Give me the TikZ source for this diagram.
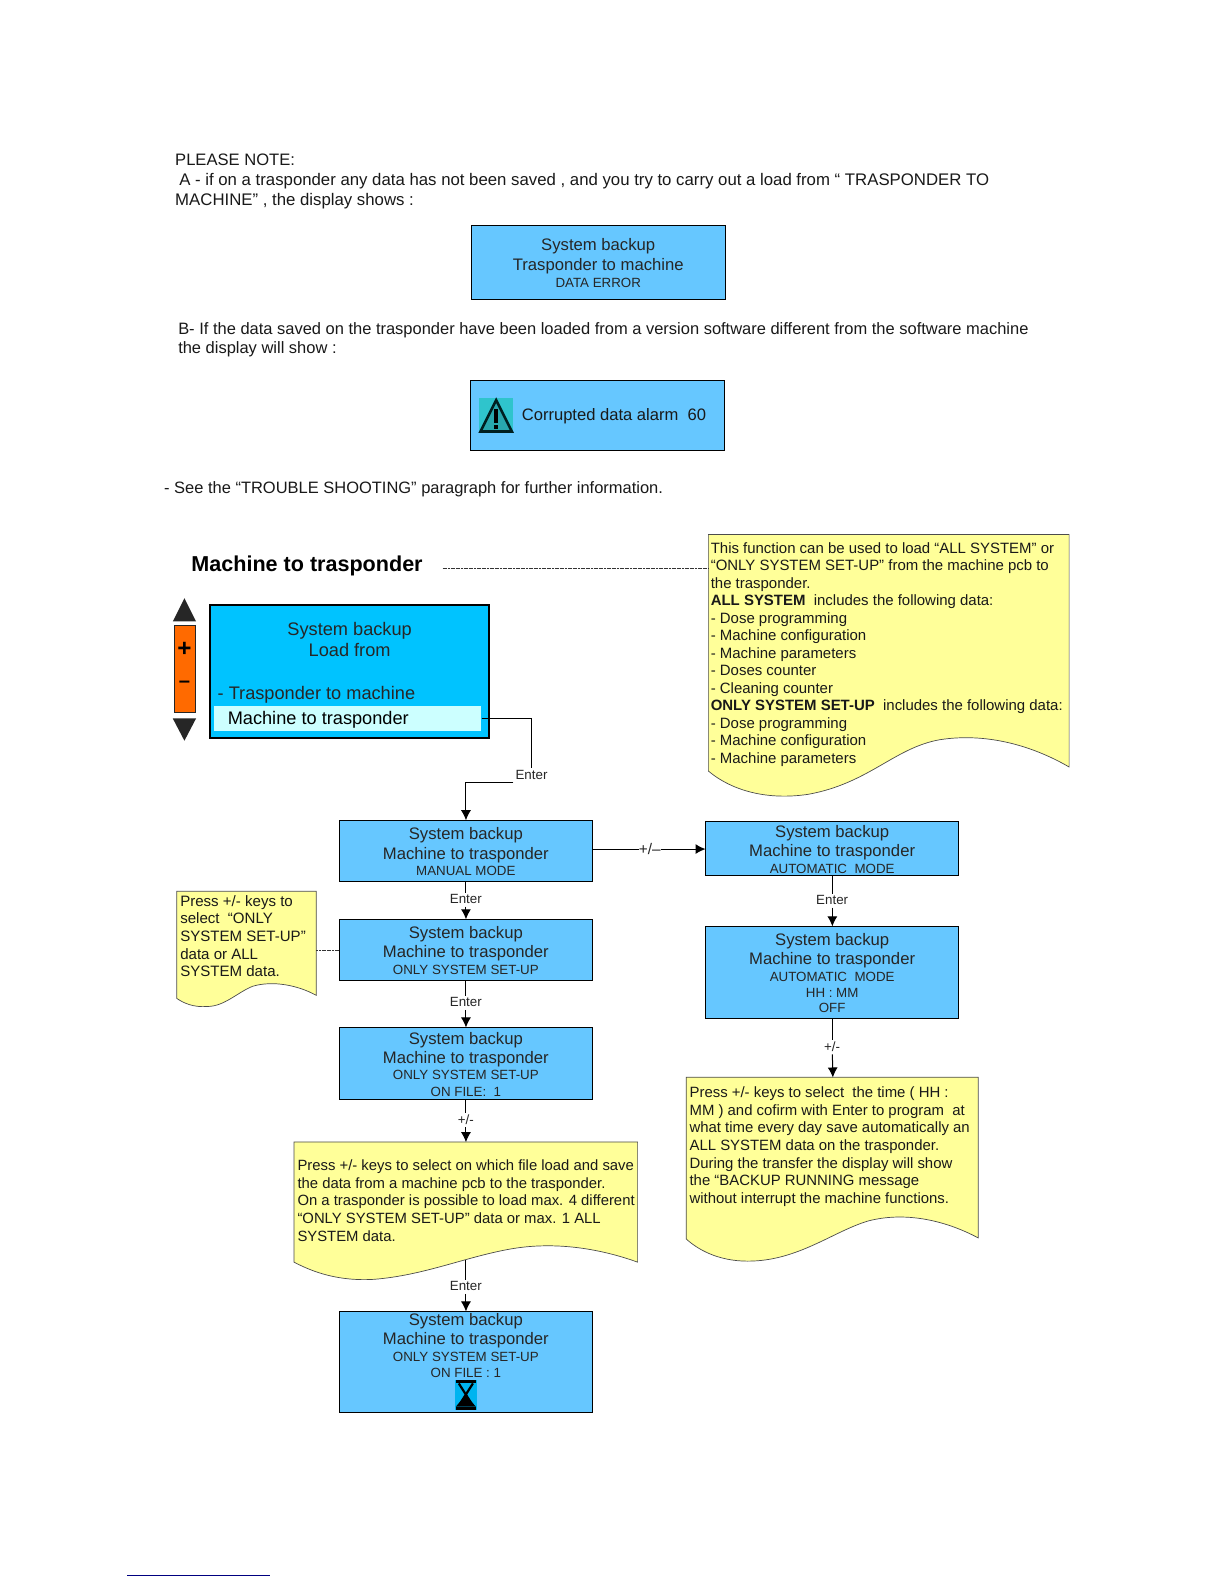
\documentclass[tikz,border=0pt]{standalone}
\usepackage{fontspec}
\setmainfont{Liberation Sans}
\usetikzlibrary{arrows.meta}
\definecolor{lcd}{HTML}{66C7FF}
\definecolor{lcddark}{HTML}{00C3FF}
\definecolor{note}{HTML}{FFFF99}
\definecolor{orng}{HTML}{FF6A00}
\definecolor{hilite}{HTML}{CCFFFF}
\definecolor{iconteal}{HTML}{2FC4CC}
\definecolor{hourbg}{HTML}{00B4F0}
\tikzset{
 x=0.5pt,y=-0.5pt,
 lcdbox/.style={draw=black,line width=0.5pt,fill=lcd,inner sep=0pt},
 lcdtext/.style={align=center,inner sep=0pt,text=black!85,font=\fontsize{8.25}{9.5}\selectfont},
 notefill/.style={draw=black!70,line width=0.35pt,fill=note},
 body/.style={anchor=base west,inner sep=0pt,font=\fontsize{8.3}{10}\selectfont,text=black!90},
 bodyb/.style={anchor=base west,inner sep=0pt,font=\fontsize{8.15}{10}\selectfont,text=black!90},
 notetext/.style={anchor=north west,inner sep=0pt,align=left,font=\fontsize{7.4}{8.75}\selectfont,text=black!90},
 tag/.style={inner sep=1pt,font=\fontsize{6.6}{8}\selectfont,text=black!85},
 link/.style={draw=black,line width=0.5pt},
 thinlink/.style={draw=black!80,line width=0.3pt,dash pattern=on 1pt off 0.3pt},
 arr/.style={link,-{Latex[length=5pt,width=5pt]}},
}
\newcommand{\lnsml}[1]{{\fontsize{6.6}{8.3}\selectfont #1}}
\begin{document}
\begin{tikzpicture}[scale=1.0105,transform shape]
\useasboundingbox (0,0) rectangle (1211.3,1567.5);
\fill[white] (0,0) rectangle (1211.3,1567.5);
% top text
\node[body,font=\fontsize{8.2}{10}\selectfont] (t1) at (173,164) {PLEASE NOTE:};
\node[body] (t2) at (177,184) {A - if on a trasponder any data has not been saved , and you try to carry out a load from “ TRASPONDER TO};
\node[body] (t3) at (173,203) {MACHINE” , the display shows :};
\node[lcdbox,minimum width=125.5pt,minimum height=36.5pt] (e1) at (592.3,260) {};
\node[lcdtext] (e1t) at (592,260.5) {System backup\\[0.4pt]Trasponder to machine\\[-1.2pt]\lnsml{DATA ERROR}};
\node[bodyb] (t4) at (176,331) {B- If the data saved on the trasponder have been loaded from a version software different from the software machine};
\node[bodyb] (t5) at (176,350) {the display will show :};
\node[lcdbox,minimum width=125.5pt,minimum height=34.5pt] (e2) at (591.3,411.5) {};
% warning icon
\fill[iconteal] (474,394) rectangle (508,428);
\draw[black!75!teal,line width=1.3pt,line join=miter,fill=iconteal!85!black] (491,396) -- (506.5,427) -- (475.5,427) -- cycle;
\fill[black] (489,405) rectangle (493,419);
\fill[black] (489,421) rectangle (493,425);
\node[body,font=\fontsize{8.2}{10}\selectfont] (e2t) at (516,416) {Corrupted data alarm\ \ 60};
\node[bodyb] (t6) at (162,488) {- See the “TROUBLE SHOOTING” paragraph for further information.};
% title
\node[anchor=base west,inner sep=0pt,font=\bfseries\fontsize{10.67}{12}\selectfont] (title) at (189,565.5) {Machine to trasponder};
\coordinate (titleend) at (438,562);
% big note
\path[notefill] (701,529) -- (1058,529) -- (1058,759) .. controls (1020,737) and (975,725) .. (930,732) .. controls (885,740) and (860,775) .. (800,786) .. controls (760,792) and (725,783) .. (701,763) -- cycle;
\coordinate (bignoteW) at (701,562);
\node[notetext,font=\fontsize{7.4}{8.65}\selectfont] (bignote) at (703,536.5) {This function can be used to load “ALL SYSTEM” or\\“ONLY SYSTEM SET-UP” from the machine pcb to\\the trasponder.\\\textbf{ALL SYSTEM}\ \ includes the following data:\\- Dose programming\\- Machine configuration\\- Machine parameters\\- Doses counter\\- Cleaning counter\\\textbf{ONLY SYSTEM SET-UP}\ \ includes the following data:\\- Dose programming\\- Machine configuration\\- Machine parameters};
\draw[thinlink] (titleend) -- (bignoteW);
% keypad
\fill[black!85] (182.5,592) -- (194,615) -- (171,615) -- cycle;
\fill[black!85] (182.5,733) -- (194,711) -- (171,711) -- cycle;
\draw[fill=orng,draw=black!85,line width=0.8pt] (172.5,619) rectangle (193.5,705);
\node[inner sep=0pt,font=\bfseries\fontsize{12}{12}\selectfont] (plus) at (182.5,643) {+};
\node[inner sep=0pt,font=\bfseries\fontsize{10}{12}\selectfont] (minus) at (182.5,677) {–};
% main lcd
\node[draw=black,line width=0.9pt,fill=lcddark,minimum width=138pt,minimum height=66pt,inner sep=0pt] (main) at (346,664.5) {};
\node[align=center,inner sep=0pt,font=\fontsize{9}{10.5}\selectfont,text=black!85] (maint) at (346,632.5) {System backup\\Load from};
\node[anchor=base west,inner sep=0pt,font=\fontsize{9}{10}\selectfont,text=black!85] (mainl) at (215,692) {- Trasponder to machine};
\node[draw=none,fill=hilite,minimum width=132pt,minimum height=12pt,inner sep=0pt] (hl) at (344,711) {};
\node[anchor=base west,inner sep=0pt,font=\fontsize{9}{10}\selectfont,text=black] (hlt) at (225,716.5) {Machine to trasponder};
% connector enter
\node[tag] (en0) at (526,767) {Enter};
% left boxes
\node[lcdbox,minimum width=125.5pt,minimum height=30pt] (b1) at (461,842) {};
\node[lcdtext] (b1t) at (461,843) {System backup\\Machine to trasponder\\[-1.2pt]\lnsml{MANUAL MODE}};
\node[lcdbox,minimum width=125.5pt,minimum height=30pt] (b2) at (461,940) {};
\node[lcdtext] (b2t) at (461,940.5) {System backup\\Machine to trasponder\\[-1.2pt]\lnsml{ONLY SYSTEM SET-UP}};
\node[lcdbox,minimum width=125.5pt,minimum height=35.5pt] (b3) at (461,1052.5) {};
\node[lcdtext] (b3t) at (461,1053) {System backup\\Machine to trasponder\\[-1.2pt]\lnsml{ONLY SYSTEM SET-UP}\\[-1.5pt]\lnsml{ON FILE:\ \ 1}};
\node[lcdbox,minimum width=125.5pt,minimum height=50pt] (b4) at (461,1348) {};
\node[lcdtext] (b4t) at (461,1331.5) {System backup\\Machine to trasponder\\[-1.2pt]\lnsml{ONLY SYSTEM SET-UP}\\[-1.5pt]\lnsml{ON FILE : 1}};
% hourglass
\fill[hourbg] (450,1366) rectangle (472,1395);
\fill[black] (451,1366) rectangle (471,1369);
\fill[black] (451,1392) rectangle (471,1395);
\draw[black,line width=1.1pt] (454,1369) -- (468,1391) (468,1369) -- (454,1391);
\fill[black] (461,1381) -- (471,1392) -- (451,1392) -- cycle;
% right boxes
\node[lcdbox,minimum width=125pt,minimum height=27pt] (r1) at (823.5,839.5) {};
\node[lcdtext] (r1t) at (823.5,840.5) {System backup\\Machine to trasponder\\[-1.2pt]\lnsml{AUTOMATIC\ \ MODE}};
\node[lcdbox,minimum width=125pt,minimum height=45.5pt] (r2) at (823.5,962.5) {};
\node[lcdtext] (r2t) at (823.5,962.5) {System backup\\Machine to trasponder\\[-0.8pt]\lnsml{AUTOMATIC\ \ MODE}\\[-2pt]\lnsml{HH : MM}\\[-2pt]\lnsml{OFF}};
% left note
\path[notefill] (175,882) -- (313,882) -- (313,985) .. controls (295,975) and (270,970) .. (250,976) .. controls (235,982) and (222,996) .. (205,996) .. controls (192,997) and (182,993) .. (175,988) -- cycle;
\coordinate (lnE) at (313,940);
\node[notetext,font=\fontsize{7.45}{8.75}\selectfont] (lnt) at (178,885.5) {Press +/- keys to\\select\ \ “ONLY\\SYSTEM SET-UP”\\data or ALL\\SYSTEM data.};
\draw[thinlink] (lnE) -- (b2.west);
% mid note
\path[notefill] (291,1130) -- (631,1130) -- (631,1249) .. controls (595,1236) and (550,1228) .. (505,1236) .. controls (460,1244) and (420,1262) .. (370,1266) .. controls (335,1268) and (310,1259) .. (291,1249) -- cycle;
\coordinate (mnN) at (461,1130);
\coordinate (mnS) at (461,1247);
\node[notetext,font=\fontsize{7.35}{8.7}\selectfont] (mnt) at (294,1147.5) {Press +/- keys to select on which file load and save\\the data from a machine pcb to the trasponder.\\On a trasponder is possible to load max. 4 different\\“ONLY SYSTEM SET-UP” data or max. 1 ALL\\SYSTEM data.};
% right note
\path[notefill] (679,1066) -- (968,1066) -- (968,1225) .. controls (940,1210) and (900,1198) .. (860,1208) .. controls (825,1218) and (790,1248) .. (740,1248) .. controls (710,1248) and (690,1236) .. (679,1226) -- cycle;
\coordinate (rnN) at (824,1066);
\node[notetext,font=\fontsize{7.38}{8.75}\selectfont] (rnt) at (682,1075) {Press +/- keys to select\ \ the time ( HH :\\MM ) and cofirm with Enter to program\ \ at\\what time every day save automatically an\\ALL SYSTEM data on the trasponder.\\During the transfer the display will show\\the “BACKUP RUNNING message\\without interrupt the machine functions.};
% connectors
\draw[link] (hl.east) -| (en0.north);
\draw[arr] (en0.south west) -| (b1.north);
\node[tag] (en1) at (461,890) {Enter};
\draw[link] (b1.south) -- (en1.north);
\draw[arr] (en1.south) -- (b2.north);
\node[tag] (en2) at (461,992) {Enter};
\draw[link] (b2.south) -- (en2.north);
\draw[arr] (en2.south) -- (b3.north);
\node[tag] (pm1) at (461,1108) {+/-};
\draw[link] (b3.south) -- (pm1.north);
\draw[arr] (pm1.south) -- (mnN);
\node[tag] (en3) at (461,1273) {Enter};
\draw[link] (mnS) -- (en3.north);
\draw[arr] (en3.south) -- (b4.north);
\node[tag,inner sep=0pt,font=\fontsize{7.6}{8}\selectfont] (pm2) at (643,840) {+/–};
\draw[link] (b1.east |- pm2.west) -- (pm2.west);
\draw[arr] (pm2.east) -- (r1.west |- pm2.east);
\node[tag] (en4) at (823.5,891) {Enter};
\draw[link] (r1.south) -- (en4.north);
\draw[arr] (en4.south) -- (r2.north);
\node[tag] (pm3) at (823.5,1036) {+/-};
\draw[link] (r2.south) -- (pm3.north);
\draw[arr] (pm3.south) -- (rnN);
% footnote rule
\draw[draw=blue!50!black,line width=0.5pt] (126,1559.5) -- (267,1559.5);
\end{tikzpicture}
\end{document}
